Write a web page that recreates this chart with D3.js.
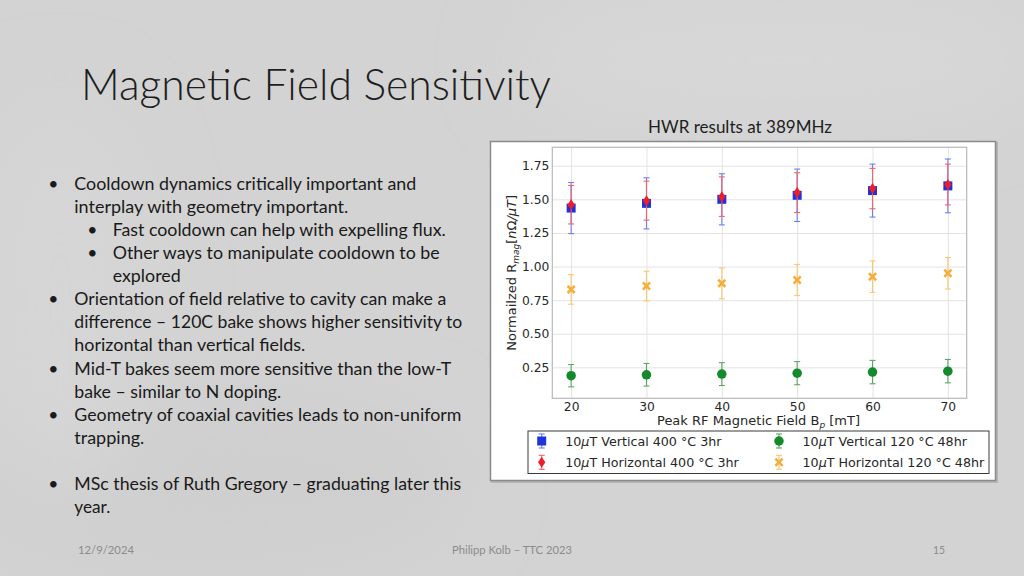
<!DOCTYPE html>
<html><head><meta charset="utf-8">
<script src="https://cdn.jsdelivr.net/npm/d3@7"></script>
<style>html,body{margin:0;padding:0;background:#d3d3d3} svg{display:block}</style>
</head><body><svg id="c" width="1024" height="576"></svg>
<script>
// ---- data ----
const fields = [20, 30, 40, 50, 60, 70];
const vert400 = [1.435, 1.47, 1.50, 1.53, 1.565, 1.60];
const vert400Err = [0.19, 0.19, 0.19, 0.195, 0.197, 0.20];
const horiz400 = [1.46, 1.49, 1.52, 1.55, 1.58, 1.61];
const horiz400Err = [0.143, 0.145, 0.147, 0.148, 0.15, 0.152];
const vert120 = [0.188, 0.195, 0.20, 0.207, 0.215, 0.222];
const vert120Err = [0.083, 0.084, 0.085, 0.086, 0.087, 0.087];
const horiz120 = [0.83, 0.855, 0.875, 0.90, 0.925, 0.95];
const horiz120Err = [0.11, 0.11, 0.115, 0.116, 0.117, 0.117];
const seriesNames = ["Vertical 400 °C 3hr", "Horizontal 400 °C 3hr", "Vertical 120 °C 48hr", "Horizontal 120 °C 48hr"];
const yTicks = [0.25, 0.50, 0.75, 1.00, 1.25, 1.50, 1.75];
const xTicks = [20, 30, 40, 50, 60, 70];
const bullets = [
  {lvl:0, lines:["Cooldown dynamics critically important and", "interplay with geometry important."]},
  {lvl:1, lines:["Fast cooldown can help with expelling flux."]},
  {lvl:1, lines:["Other ways to manipulate cooldown to be", "explored"]},
  {lvl:0, lines:["Orientation of field relative to cavity can make a", "difference – 120C bake shows higher sensitivity to", "horizontal than vertical fields."]},
  {lvl:0, lines:["Mid-T bakes seem more sensitive than the low-T", "bake – similar to N doping."]},
  {lvl:0, lines:["Geometry of coaxial cavities leads to non-uniform", "trapping."]},
  {lvl:-1, lines:[""]},
  {lvl:0, lines:["MSc thesis of Ruth Gregory – graduating later this", "year."]}
];
const lineWidths = [342,274,333,327,68,372,388,231,377,207,387,70,0,387,36];

const svg = d3.select("#c");

// ---- slide background ----
const defs = svg.append("defs");
const bl = defs.append("filter").attr("id","blur").attr("x","-50%").attr("y","-50%").attr("width","200%").attr("height","200%");
bl.append("feGaussianBlur").attr("stdDeviation", 40);
svg.append("rect").attr("width",1024).attr("height",576).attr("fill","#d3d3d3");
const bg = svg.append("g").attr("filter","url(#blur)");
bg.append("ellipse").attr("cx",200).attr("cy",480).attr("rx",260).attr("ry",90).attr("fill","#cfcfcf");
bg.append("ellipse").attr("cx",780).attr("cy",60).attr("rx",260).attr("ry",60).attr("fill","#d8d8d8");
bg.append("ellipse").attr("cx",60).attr("cy",300).attr("rx",80).attr("ry",200).attr("fill","#d6d6d6");

// ---- slide texts ----
svg.append("text").attr("x",81).attr("y",99.5)
  .attr("font-family","Lato, 'Open Sans', sans-serif").attr("font-weight",300)
  .attr("font-size",43).attr("fill","#1e1e1e")
  .attr("textLength",470).attr("lengthAdjust","spacingAndGlyphs")
  .text("Magnetic Field Sensitivity");

svg.append("text").attr("x",648).attr("y",132.5)
  .attr("font-family","Lato, 'Open Sans', sans-serif")
  .attr("font-size",17).attr("fill","#1e1e1e")
  .attr("textLength",184).attr("lengthAdjust","spacingAndGlyphs")
  .text("HWR results at 389MHz");

const bodyG = svg.append("g").attr("font-family","Lato, 'Open Sans', sans-serif")
  .attr("font-size",17.5).attr("fill","#1a1a1a");
let li = 0;
const baselines = [190,213,236,259,282,305,328,351,374.5,397.5,420.5,443.5,466.5,489.5,512.5];
bullets.forEach(b => {
  b.lines.forEach((ln, k) => {
    const yb = baselines[li];
    if (b.lvl >= 0) {
      const tx = b.lvl === 0 ? 74.3 : 112.7;
      const bx = b.lvl === 0 ? 53.3 : 92.3;
      if (k === 0) bodyG.append("text").attr("x",bx).attr("y",yb).attr("text-anchor","middle").text("•");
      bodyG.append("text").attr("x",tx).attr("y",yb)
        .attr("textLength",lineWidths[li]).attr("lengthAdjust","spacingAndGlyphs").text(ln);
    }
    li++;
  });
});

const foot = svg.append("g").attr("font-family","'Liberation Sans Narrow', Lato, sans-serif")
  .attr("font-size",12).attr("fill","#8c8c8c");
foot.append("text").attr("x",78).attr("y",554).attr("textLength",56).attr("lengthAdjust","spacingAndGlyphs").text("12/9/2024");
foot.append("text").attr("x",452).attr("y",554).attr("textLength",120).attr("lengthAdjust","spacingAndGlyphs").text("Philipp Kolb – TTC 2023");
foot.append("text").attr("x",933).attr("y",554).attr("textLength",12).attr("lengthAdjust","spacingAndGlyphs").text("15");

// ---- chart frame ----
svg.append("rect").attr("x",491).attr("y",142).attr("width",505).attr("height",339)
  .attr("fill","none").attr("stroke","#b5b5b5").attr("stroke-width",2).attr("transform","translate(1,1)");
svg.append("rect").attr("x",490.5).attr("y",141.5).attr("width",505).attr("height",339)
  .attr("fill","#ffffff").attr("stroke","#8a8a8a").attr("stroke-width",1.5);

const L = 552.3, R = 966.7, T = 147.3, B = 398.3;
const x = d3.scaleLinear().domain([17.5, 72.5]).range([L, R]);
const y = d3.scaleLinear().domain([0.02, 1.887]).range([B, T]);
const chartFont = "'DejaVu Sans', sans-serif";

// grid
const gy = svg.append("g").attr("transform",`translate(${L},0)`)
  .call(d3.axisLeft(y).tickValues(yTicks).tickSize(-(R-L)).tickFormat(""));
gy.select(".domain").remove();
gy.selectAll("line").attr("stroke","#e3e3e3").attr("stroke-width",1);
const gx = svg.append("g").attr("transform",`translate(0,${B})`)
  .call(d3.axisBottom(x).tickValues(xTicks).tickSize(-(B-T)).tickFormat(""));
gx.select(".domain").remove();
gx.selectAll("line").attr("stroke","#e3e3e3").attr("stroke-width",1);

// frame of axes
svg.append("rect").attr("x",L).attr("y",T).attr("width",R-L).attr("height",B-T)
  .attr("fill","none").attr("stroke","#b8b8b8").attr("stroke-width",1.2);

// tick labels
const ay = svg.append("g").attr("transform",`translate(${L},0)`)
  .call(d3.axisLeft(y).tickValues(yTicks).tickSize(0).tickPadding(3).tickFormat(d3.format(".2f")));
ay.select(".domain").remove();
ay.selectAll("text").attr("font-family",chartFont).attr("font-size",12.3).attr("fill","#262626");
const ax = svg.append("g").attr("transform",`translate(0,${B})`)
  .call(d3.axisBottom(x).tickValues(xTicks).tickSize(0).tickPadding(4).tickFormat(d3.format("d")));
ax.select(".domain").remove();
ax.selectAll("text").attr("font-family",chartFont).attr("font-size",12.3).attr("fill","#262626");

// axis labels
const xl = svg.append("text").attr("x",(L+R)/2 - 1).attr("y",425).attr("text-anchor","middle")
  .attr("font-family",chartFont).attr("font-size",13).attr("fill","#262626");
xl.append("tspan").text("Peak RF Magnetic Field B");
xl.append("tspan").attr("font-size",9).attr("font-style","italic").attr("dy",3).text("p");
xl.append("tspan").attr("dy",-3).text(" [mT]");

const yl = svg.append("text").attr("transform",`translate(515.5,${(T+B)/2}) rotate(-90)`)
  .attr("text-anchor","middle").attr("font-family",chartFont).attr("font-size",13).attr("fill","#262626");
yl.append("tspan").text("Normailzed R");
yl.append("tspan").attr("font-size",9).attr("font-style","italic").attr("dy",3).text("mag");
yl.append("tspan").attr("dy",-3).text("[");
yl.append("tspan").attr("font-style","italic").text("n");
yl.append("tspan").text("Ω");
yl.append("tspan").attr("font-style","italic").text("/μT");
yl.append("tspan").text("]");

// ---- markers ----
const shapes = {
  square: s => `M${-s/2},${-s/2}h${s}v${s}h${-s}Z`,
  diamond: s => `M0,${-s/2}L${s*0.33},0L0,${s/2}L${-s*0.33},0Z`,
  circle: s => d3.symbol(d3.symbolCircle, Math.PI*(s/2)*(s/2))(),
  xmark: s => { const a = s/2, t = s*0.2;
    return `M${-a+t},${-a}L0,${-t}L${a-t},${-a}L${a},${-a+t}L${t},0L${a},${a-t}L${a-t},${a}L0,${t}L${-a+t},${a}L${-a},${a-t}L${-t},0L${-a},${-a+t}Z`; }
};

const series = [
  {name:seriesNames[0], vals:vert400, err:vert400Err, color:"#1f33d9", ecolor:"#6f7ef0", shape:"square", size:9},
  {name:seriesNames[1], vals:horiz400, err:horiz400Err, color:"#ee1d27", ecolor:"#f0646a", shape:"diamond", size:11},
  {name:seriesNames[2], vals:vert120, err:vert120Err, color:"#138a2b", ecolor:"#5aa868", shape:"circle", size:9.5},
  {name:seriesNames[3], vals:horiz120, err:horiz120Err, color:"#f8ad3a", ecolor:"#fbc672", shape:"xmark", size:9}
];

const plotG = svg.append("g");
series.forEach(s => {
  const g = plotG.append("g");
  const pts = fields.map((f,i) => ({f, v:s.vals[i], e:s.err[i]}));
  const eb = g.selectAll(".eb").data(pts).enter().append("g").attr("stroke",s.ecolor).attr("stroke-width",1.1);
  eb.append("line").attr("x1",d=>x(d.f)).attr("x2",d=>x(d.f)).attr("y1",d=>y(d.v-d.e)).attr("y2",d=>y(d.v+d.e));
  eb.append("line").attr("x1",d=>x(d.f)-3).attr("x2",d=>x(d.f)+3).attr("y1",d=>y(d.v-d.e)).attr("y2",d=>y(d.v-d.e));
  eb.append("line").attr("x1",d=>x(d.f)-3).attr("x2",d=>x(d.f)+3).attr("y1",d=>y(d.v+d.e)).attr("y2",d=>y(d.v+d.e));
  g.selectAll(".m").data(pts).enter().append("path")
    .attr("d", shapes[s.shape](s.size))
    .attr("transform", d => `translate(${x(d.f)},${y(d.v)})`)
    .attr("fill", s.color);
});

// ---- legend ----
const lg = svg.append("g");
lg.append("rect").attr("x",528).attr("y",431).attr("width",461).attr("height",42.5)
  .attr("fill","#fff").attr("stroke","#3a3a3a").attr("stroke-width",1);
const legPos = [[541.7,441],[541.7,462.3],[779,441],[779,462.3]];
series.forEach((s,i) => {
  const [mx,my] = legPos[i];
  const g = lg.append("g");
  g.append("line").attr("x1",mx).attr("x2",mx).attr("y1",my-7).attr("y2",my+7).attr("stroke",s.ecolor).attr("stroke-width",1.1);
  g.append("line").attr("x1",mx-3).attr("x2",mx+3).attr("y1",my-7).attr("y2",my-7).attr("stroke",s.ecolor).attr("stroke-width",1.1);
  g.append("line").attr("x1",mx-3).attr("x2",mx+3).attr("y1",my+7).attr("y2",my+7).attr("stroke",s.ecolor).attr("stroke-width",1.1);
  g.append("path").attr("d",shapes[s.shape](s.size)).attr("transform",`translate(${mx},${my})`).attr("fill",s.color);
  const t = g.append("text").attr("x",mx+23.5).attr("y",my+4.6)
    .attr("font-family",chartFont).attr("font-size",12.7).attr("fill","#262626");
  t.append("tspan").text("10");
  t.append("tspan").attr("font-style","italic").text("μ");
  t.append("tspan").text("T " + s.name);
});
</script></body></html>
